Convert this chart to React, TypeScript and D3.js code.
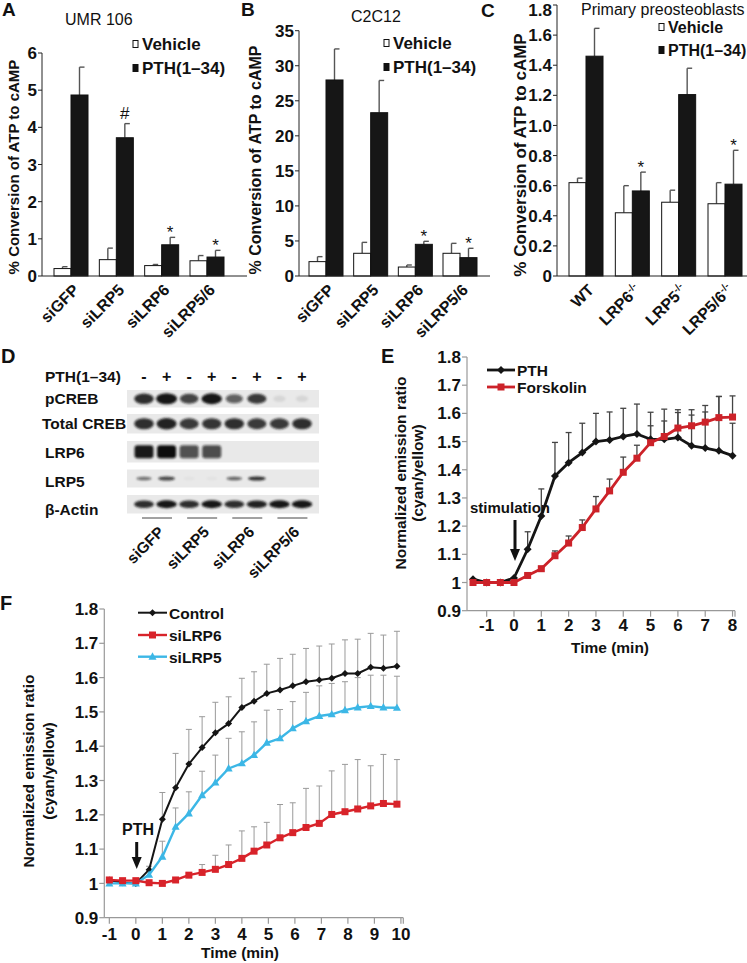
import React from "react";
import * as d3 from "d3";

const FONT = "'Liberation Sans', Arial, Helvetica, sans-serif";

// ---------- Panel A (UMR 106) ----------
const catsA = ["siGFP", "siLRP5", "siLRP6", "siLRP5/6"];
const vehA = [0.2, 0.44, 0.28, 0.41];
const vehErrA = [0.05, 0.31, 0.03, 0.14];
const pthA = [4.87, 3.72, 0.84, 0.51];
const pthErrA = [0.75, 0.38, 0.2, 0.18];
const marksA = ["", "#", "*", "*"];
const ticksA = [0, 1, 2, 3, 4, 5, 6];

// ---------- Panel B (C2C12) ----------
const catsB = ["siGFP", "siLRP5", "siLRP6", "siLRP5/6"];
const vehB = [2.05, 3.24, 1.28, 3.24];
const vehErrB = [0.71, 1.56, 0.29, 1.42];
const pthB = [27.97, 23.3, 4.52, 2.62];
const pthErrB = [4.43, 4.6, 0.43, 1.33];
const marksB = ["", "", "*", "*"];
const ticksB = [0, 5, 10, 15, 20, 25, 30, 35];

// ---------- Panel C (Primary preosteoblasts) ----------
const catsC = ["WT", "LRP6", "LRP5", "LRP5/6"];
const supC = ["", "-/-", "-/-", "-/-"];
const vehC = [0.62, 0.42, 0.49, 0.48];
const vehErrC = [0.03, 0.18, 0.08, 0.14];
const pthC = [1.46, 0.565, 1.205, 0.61];
const pthErrC = [0.185, 0.125, 0.175, 0.225];
const marksC = ["", "*", "", "*"];
const ticksC = [0, 0.2, 0.4, 0.6, 0.8, 1.0, 1.2, 1.4, 1.6, 1.8];

// ---------- Panel D (western blot) ----------
const lanesD = ["-", "+", "-", "+", "-", "+", "-", "+"];
const groupsD = ["siGFP", "siLRP5", "siLRP6", "siLRP5/6"];
const rowsD = ["pCREB", "Total CREB", "LRP6", "LRP5", "β-Actin"];
const pCREB = [0.85, 1.0, 0.75, 0.95, 0.6, 0.8, 0.08, 0.08];
const totalCREB = [0.85, 0.9, 0.8, 0.82, 0.85, 0.8, 0.8, 0.85];
const lrp6 = [0.95, 1.0, 0.7, 0.72, 0, 0, 0, 0];
const lrp5 = [0.55, 0.75, 0.04, 0.04, 0.6, 0.85, 0, 0];
const bActin = [0.85, 0.95, 0.85, 0.95, 0.85, 0.9, 0.95, 0.95];

// ---------- Panel E ----------
const timeE = [-1.5, -1, -0.5, 0, 0.5, 1, 1.5, 2, 2.5, 3, 3.5, 4, 4.5, 5, 5.5, 6, 6.5, 7, 7.5, 8];
const pthE = [1.012, 1.0, 1.0, 1.016, 1.118, 1.236, 1.378, 1.425, 1.461, 1.5, 1.506, 1.518, 1.527, 1.508, 1.508, 1.514, 1.485, 1.477, 1.467, 1.45];
const pthErrE = [0, 0, 0, 0, 0.062, 0.096, 0.119, 0.107, 0.104, 0.1, 0.099, 0.1, 0.106, 0.096, 0.107, 0.099, 0.128, 0.151, 0.193, 0.115];
const forsE = [1.0, 1.0, 1.0, 1.0, 1.025, 1.049, 1.095, 1.14, 1.195, 1.261, 1.325, 1.391, 1.441, 1.496, 1.518, 1.548, 1.556, 1.569, 1.585, 1.587];
const forsErrE = [0, 0, 0, 0, 0.005, 0.008, 0.017, 0.025, 0.027, 0.044, 0.042, 0.054, 0.046, 0.06, 0.055, 0.055, 0.038, 0.036, 0.075, 0.075];
const xTicksE = [-1, 0, 1, 2, 3, 4, 5, 6, 7, 8];
const yTicksLine = [0.9, 1.0, 1.1, 1.2, 1.3, 1.4, 1.5, 1.6, 1.7, 1.8];

// ---------- Panel F ----------
const timeF = [-1, -0.5, 0, 0.5, 1, 1.5, 2, 2.5, 3, 3.5, 4, 4.46, 4.94, 5.44, 5.92, 6.42, 6.92, 7.39, 7.89, 8.37, 8.86, 9.34, 9.85];
const ctrlF = [1.01, 1.002, 1.0, 1.04, 1.187, 1.279, 1.348, 1.396, 1.439, 1.466, 1.513, 1.531, 1.554, 1.564, 1.576, 1.588, 1.593, 1.598, 1.612, 1.612, 1.63, 1.627, 1.633];
const ctrlErrF = [0, 0, 0, 0.01, 0.078, 0.1, 0.101, 0.09, 0.089, 0.078, 0.085, 0.086, 0.085, 0.092, 0.092, 0.097, 0.099, 0.1, 0.098, 0.1, 0.099, 0.097, 0.102];
const lrp6F = [1.01, 1.008, 1.008, 1.002, 1.0, 1.01, 1.024, 1.032, 1.041, 1.055, 1.073, 1.094, 1.112, 1.133, 1.148, 1.163, 1.175, 1.201, 1.209, 1.217, 1.226, 1.233, 1.231];
const lrp6ErrF = [0, 0, 0, 0, 0, 0, 0.005, 0.023, 0.041, 0.057, 0.08, 0.071, 0.066, 0.097, 0.087, 0.114, 0.109, 0.127, 0.138, 0.144, 0.117, 0.143, 0.13];
const lrp5F = [1.0, 1.0, 1.0, 1.025, 1.078, 1.165, 1.204, 1.257, 1.294, 1.335, 1.35, 1.374, 1.41, 1.423, 1.452, 1.473, 1.488, 1.493, 1.505, 1.513, 1.517, 1.513, 1.512];
const lrp5ErrF = [0, 0, 0, 0, 0.045, 0.055, 0.063, 0.07, 0.08, 0.088, 0.092, 0.097, 0.095, 0.084, 0.078, 0.084, 0.088, 0.09, 0.083, 0.087, 0.09, 0.094, 0.092];
const xTicksF = [-1, 0, 1, 2, 3, 4, 5, 6, 7, 8, 9, 10];

const RED = "#d8232a";
const CYAN = "#3cb7e6";

type BarProps = {
  x0: number; xEnd: number; yTop: number; yMax: number; ticks: number[];
  fmt: (v: number) => string; cats: string[]; sups?: string[]; xr: [number, number];
  veh: number[]; vehErr: number[]; pth: number[]; pthErr: number[]; marks: string[];
  title: string; titleX: number; titleY: number;
  legX: number; legY1: number; legY2: number; legSize: number;
  yLabelX: number; yLabelY: number; yLabelSize: number;
};

function Marker({ kind, x, y, size, color }: { kind: string; x: number; y: number; size: number; color: string }) {
  if (kind === "square") return <rect x={x - size / 2} y={y - size / 2} width={size} height={size} fill={color} />;
  if (kind === "diamond") {
    const r = size / 2;
    return <path d={`M${x},${y - r}L${x + r},${y}L${x},${y + r}L${x - r},${y}Z`} fill={color} />;
  }
  const r = size / 2;
  return <path d={`M${x},${y - r * 1.1}L${x + r},${y + r * 0.75}L${x - r},${y + r * 0.75}Z`} fill={color} />;
}

function BarPanel(p: BarProps) {
  const base = 276;
  const y = d3.scaleLinear().domain([0, p.yMax]).range([base, p.yTop]);
  const x = d3.scalePoint<string>().domain(p.cats).range(p.xr);
  const bw = 17;
  const err = (cx: number, v: number, e: number) => (
    <g stroke="#555" strokeWidth={1.4}>
      <line x1={cx} x2={cx} y1={y(v)} y2={y(v + e)} />
      <line x1={cx} x2={cx + 5} y1={y(v + e)} y2={y(v + e)} />
    </g>
  );
  return (
    <g>
      <text x={p.titleX} y={p.titleY} fontSize={16}>{p.title}</text>
      {p.cats.map((c, i) => {
        const cx = x(c)!;
        return (
          <g key={c}>
            {err(cx - bw / 2, p.veh[i], p.vehErr[i])}
            {err(cx + bw / 2, p.pth[i], p.pthErr[i])}
            <rect x={cx - bw} y={y(p.veh[i])} width={bw} height={base - y(p.veh[i])} fill="#fff" stroke="#111" strokeWidth={1} />
            <rect x={cx} y={y(p.pth[i])} width={bw} height={base - y(p.pth[i])} fill="#161616" stroke="#111" strokeWidth={1} />
            {p.marks[i] === "*" && (
              <text x={cx + bw / 2} y={y(p.pth[i] + p.pthErr[i]) + 1} textAnchor="middle" fontSize={17}>*</text>
            )}
            {p.marks[i] === "#" && (
              <text x={cx + bw / 2} y={y(p.pth[i] + p.pthErr[i]) - 5} textAnchor="middle" fontSize={17}>#</text>
            )}
            <text transform={`translate(${cx + 9},${291}) rotate(-45)`} textAnchor="end" fontWeight="bold" fontSize={16}>
              {c}
              {p.sups && p.sups[i] ? <tspan dy={-6} fontSize={10}>{p.sups[i]}</tspan> : null}
            </text>
          </g>
        );
      })}
      <line x1={p.x0} x2={p.x0} y1={p.yTop} y2={base} stroke="#222" />
      <line x1={p.x0} x2={p.xEnd} y1={base} y2={base} stroke="#222" />
      {p.ticks.map((t) => (
        <g key={t}>
          <line x1={p.x0 - 4} x2={p.x0} y1={y(t)} y2={y(t)} stroke="#222" />
          <text x={p.x0 - 5} y={Math.max(y(t), 10)} dy="0.36em" textAnchor="end" fontWeight="bold" fontSize={17}>{p.fmt(t)}</text>
        </g>
      ))}
      <text transform={`translate(${p.yLabelX},${p.yLabelY}) rotate(-90)`} textAnchor="middle" dominantBaseline="central" fontWeight="bold" fontSize={p.yLabelSize}>
        % Conversion of ATP to cAMP
      </text>
      <rect x={p.legX} y={p.legY1 - 3.5} width={5} height={7} fill="#fff" stroke="#111" />
      <text x={p.legX + 9} y={p.legY1 + 6} fontWeight="bold" fontSize={p.legSize}>Vehicle</text>
      <rect x={p.legX} y={p.legY2 - 3.5} width={5} height={7} fill="#111" stroke="#111" />
      <text x={p.legX + 9} y={p.legY2 + 6} fontWeight="bold" fontSize={p.legSize}>PTH(1–34)</text>
    </g>
  );
}

type Series = { t: number[]; v: number[]; e: number[]; color: string; marker: string; ms: number; lw: number };

function LinePanel(props: {
  xDom: [number, number]; xRange: [number, number]; yRange: [number, number];
  xTicks: number[]; series: Series[]; errColor: string; errW: number; cap: number;
  axisColor: string; xLabOff: number;
}) {
  const x = d3.scaleLinear().domain(props.xDom).range(props.xRange);
  const y = d3.scaleLinear().domain([0.9, 1.8]).range(props.yRange);
  const [xl, xr] = props.xRange;
  const [yb, yt] = props.yRange;
  const fmt = (v: number) => (Math.abs(v - 1) < 1e-9 ? "1" : v.toFixed(1));
  return (
    <g>
      <line x1={xl} x2={xl} y1={yt} y2={yb} stroke={props.axisColor} strokeWidth={1.2} />
      <line x1={xl} x2={xr} y1={yb} y2={yb} stroke={props.axisColor} strokeWidth={1.2} />
      {yTicksLine.map((t) => (
        <g key={t}>
          <line x1={xl - 5} x2={xl} y1={y(t)} y2={y(t)} stroke={props.axisColor} strokeWidth={1.2} />
          <text x={xl - 6} y={y(t)} dy="0.36em" textAnchor="end" fontWeight="bold" fontSize={17}>{fmt(t)}</text>
        </g>
      ))}
      {props.xTicks.map((t) => (
        <g key={t}>
          <line x1={x(t)} x2={x(t)} y1={yb} y2={yb + 6} stroke={props.axisColor} strokeWidth={1.2} />
          <text x={x(t)} y={yb + props.xLabOff} textAnchor="middle" fontWeight="bold" fontSize={17}>{t}</text>
        </g>
      ))}
      <line x1={xr} x2={xr} y1={yb} y2={yb + 6} stroke={props.axisColor} strokeWidth={1.2} />
      {props.series.map((s, si) => (
        <g key={"e" + si} stroke={props.errColor} strokeWidth={props.errW}>
          {s.t.map((t, i) =>
            s.e[i] > 0.004 ? (
              <g key={i}>
                <line x1={x(t)} x2={x(t)} y1={y(s.v[i])} y2={y(s.v[i] + s.e[i])} />
                <line x1={x(t) - props.cap / 2} x2={x(t) + props.cap / 2} y1={y(s.v[i] + s.e[i])} y2={y(s.v[i] + s.e[i])} />
              </g>
            ) : null
          )}
        </g>
      ))}
      {props.series.map((s, si) => {
        const pts: [number, number][] = s.t.map((t, i) => [x(t), y(s.v[i])]);
        const path = d3.line()(pts)!;
        return (
          <g key={"s" + si}>
            <path d={path} fill="none" stroke={s.color} strokeWidth={s.lw} strokeLinejoin="round" />
            {pts.map(([px, py], i) => (
              <Marker key={i} kind={s.marker} x={px} y={py} size={s.ms} color={s.color} />
            ))}
          </g>
        );
      })}
    </g>
  );
}

function Blot() {
  const lane = d3.scalePoint<number>().domain(d3.range(lanesD.length)).range([144, 302]);
  const strips = [
    { y0: 390, y1: 407.5, data: pCREB, w: 21, h: 11, kind: "oval" },
    { y0: 414, y1: 433.5, data: totalCREB, w: 21, h: 12, kind: "oval" },
    { y0: 441, y1: 462.5, data: lrp6, w: 19, h: 13, kind: "rect" },
    { y0: 469.5, y1: 487.5, data: lrp5, w: 19, h: 4.5, kind: "oval" },
    { y0: 495, y1: 513.5, data: bActin, w: 21, h: 8, kind: "oval" },
  ];
  const labelY = [403.5, 429, 457.5, 486.5, 514.5];
  const labelX = [45, 42, 45, 45, 45];
  return (
    <g>
      <text x={1} y={363} fontWeight="bold" fontSize={20}>D</text>
      <text x={45} y={381.5} fontWeight="bold" fontSize={15.5}>PTH(1–34)</text>
      {lanesD.map((s, i) => (
        <text key={i} x={lane(i)!} y={382} textAnchor="middle" fontWeight="bold" fontSize={16}>{s}</text>
      ))}
      {rowsD.map((r, i) => (
        <text key={r} x={labelX[i]} y={labelY[i]} fontWeight="bold" fontSize={15.5}>{r}</text>
      ))}
      {strips.map((st, si) => (
        <g key={si}>
          <rect x={127} y={st.y0} width={192} height={st.y1 - st.y0} fill="#e9e9e9" />
          <g filter="url(#blur)">
            {st.data.map((v, i) => {
              const cx = lane(i)!;
              const cy = (st.y0 + st.y1) / 2;
              const sc = 0.55 + 0.45 * v;
              if (v <= 0) return null;
              return st.kind === "rect" ? (
                <rect key={i} x={cx - st.w / 2} y={cy - st.h / 2} width={st.w} height={st.h} rx={3} fill="#111" opacity={v} />
              ) : (
                <ellipse key={i} cx={cx} cy={cy} rx={(st.w / 2) * sc} ry={(st.h / 2) * sc} fill="#151515" opacity={Math.min(1, v * 1.05)} />
              );
            })}
          </g>
        </g>
      ))}
      {groupsD.map((g, i) => {
        const x1 = lane(i * 2)! - 2;
        return (
          <g key={g}>
            <line x1={x1} x2={x1 + 30} y1={518} y2={518} stroke="#444" strokeWidth={1} />
            <text transform={`translate(${x1 + 23},${533}) rotate(-45)`} textAnchor="end" fontWeight="bold" fontSize={15.5}>{g}</text>
          </g>
        );
      })}
    </g>
  );
}

export default function App() {
  const fmtInt = (v: number) => String(v);
  const fmtC = (v: number) => (v === 0 ? "0" : v.toFixed(1));
  return (
    <svg width={747} height={963} style={{ position: "absolute", left: 0, top: 0, background: "#fff" }} fontFamily={FONT} fill="#111">
      <defs>
        <filter id="blur" x="-20%" y="-50%" width="140%" height="200%">
          <feGaussianBlur stdDeviation="1.2" />
        </filter>
      </defs>
      <rect x={0} y={0} width={747} height={963} fill="#fff" />

      <text x={2} y={16} fontWeight="bold" fontSize={19}>A</text>
      <BarPanel x0={42} xEnd={247} yTop={53} yMax={6} ticks={ticksA} fmt={fmtInt} cats={catsA} xr={[71, 207]}
        veh={vehA} vehErr={vehErrA} pth={pthA} pthErr={pthErrA} marks={marksA}
        title="UMR 106" titleX={65} titleY={25} legX={133} legY1={44} legY2={68} legSize={17}
        yLabelX={13} yLabelY={167} yLabelSize={15} />

      <text x={241} y={16} fontWeight="bold" fontSize={19}>B</text>
      <BarPanel x0={299} xEnd={490} yTop={30.7} yMax={35} ticks={ticksB} fmt={fmtInt} cats={catsB} xr={[326, 460]}
        veh={vehB} vehErr={vehErrB} pth={pthB} pthErr={pthErrB} marks={marksB}
        title="C2C12" titleX={351} titleY={22} legX={384} legY1={43} legY2={67} legSize={17}
        yLabelX={255} yLabelY={160} yLabelSize={16} />

      <text x={481} y={17} fontWeight="bold" fontSize={19}>C</text>
      <BarPanel x0={557} xEnd={747} yTop={5} yMax={1.8} ticks={ticksC} fmt={fmtC} cats={catsC} sups={supC} xr={[586, 725]}
        veh={vehC} vehErr={vehErrC} pth={pthC} pthErr={pthErrC} marks={marksC}
        title="Primary preosteoblasts" titleX={581} titleY={15} legX={659} legY1={27} legY2={50} legSize={16}
        yLabelX={520} yLabelY={155} yLabelSize={17} />

      <Blot />

      {/* Panel E */}
      <text x={381} y={363} fontWeight="bold" fontSize={20}>E</text>
      <LinePanel xDom={[-1.72, 8.09]} xRange={[467, 735]} yRange={[610.7, 357]} xTicks={xTicksE}
        errColor="#444" errW={1.3} cap={6} axisColor="#999" xLabOff={20}
        series={[
          { t: timeE, v: pthE, e: pthErrE, color: "#151515", marker: "diamond", ms: 8, lw: 2.8 },
          { t: timeE, v: forsE, e: forsErrE, color: "#cc2229", marker: "square", ms: 7, lw: 2.8 },
        ]} />
      <line x1={487} x2={515} y1={370} y2={370} stroke="#151515" strokeWidth={2.8} />
      <Marker kind="diamond" x={501} y={370} size={8} color="#151515" />
      <text x={517} y={375.5} fontWeight="bold" fontSize={15.5}>PTH</text>
      <line x1={487} x2={515} y1={387} y2={387} stroke="#cc2229" strokeWidth={2.8} />
      <Marker kind="square" x={501} y={387} size={7} color="#cc2229" />
      <text x={517} y={392.5} fontWeight="bold" fontSize={15.5}>Forskolin</text>
      <text x={470} y={512.5} fontWeight="bold" fontSize={15}>stimulation</text>
      <line x1={515} x2={515} y1={520} y2={550} stroke="#111" strokeWidth={3} />
      <path d="M510,549 L520,549 L515,561 Z" fill="#111" />
      <text transform="translate(400,473) rotate(-90)" textAnchor="middle" dominantBaseline="central" fontWeight="bold" fontSize={15.5}>Normalized emission ratio</text>
      <text transform="translate(417.5,473) rotate(-90)" textAnchor="middle" dominantBaseline="central" fontWeight="bold" fontSize={15.5}>(cyan/yellow)</text>
      <text x={610} y={653} textAnchor="middle" fontWeight="bold" fontSize={15.5}>Time (min)</text>

      {/* Panel F */}
      <text x={0} y={610} fontWeight="bold" fontSize={20}>F</text>
      <LinePanel xDom={[-1.19, 10.09]} xRange={[104.3, 403.3]} yRange={[917.7, 609]} xTicks={xTicksF}
        errColor="#9a9a9a" errW={1} cap={6} axisColor="#999" xLabOff={22}
        series={[
          { t: timeF, v: ctrlF, e: ctrlErrF, color: "#151515", marker: "diamond", ms: 7, lw: 2 },
          { t: timeF, v: lrp5F, e: lrp5ErrF, color: CYAN, marker: "triangle", ms: 8, lw: 2.4 },
          { t: timeF, v: lrp6F, e: lrp6ErrF, color: RED, marker: "square", ms: 7, lw: 2.4 },
        ]} />
      <line x1={138} x2={167} y1={612.7} y2={612.7} stroke="#151515" strokeWidth={2} />
      <Marker kind="diamond" x={152.5} y={612.7} size={7} color="#151515" />
      <text x={169} y={618.5} fontWeight="bold" fontSize={15.5}>Control</text>
      <line x1={138} x2={167} y1={635} y2={635} stroke={RED} strokeWidth={2.4} />
      <Marker kind="square" x={152.5} y={635} size={7} color={RED} />
      <text x={169} y={640.7} fontWeight="bold" fontSize={15.5}>siLRP6</text>
      <line x1={138} x2={167} y1={656.7} y2={656.7} stroke={CYAN} strokeWidth={2.4} />
      <Marker kind="triangle" x={152.5} y={656.7} size={8} color={CYAN} />
      <text x={169} y={662.5} fontWeight="bold" fontSize={15.5}>siLRP5</text>
      <text x={138} y={835} textAnchor="middle" fontWeight="bold" fontSize={16}>PTH</text>
      <line x1={136.7} x2={136.7} y1={842} y2={858} stroke="#111" strokeWidth={3} />
      <path d="M131.7,857 L141.7,857 L136.7,869 Z" fill="#111" />
      <text transform="translate(28.3,771) rotate(-90)" textAnchor="middle" dominantBaseline="central" fontWeight="bold" fontSize={15.5}>Normalized emission ratio</text>
      <text transform="translate(48.3,771) rotate(-90)" textAnchor="middle" dominantBaseline="central" fontWeight="bold" fontSize={15.5}>(cyan/yellow)</text>
      <text x={240} y={958} textAnchor="middle" fontWeight="bold" fontSize={15.5}>Time (min)</text>
    </svg>
  );
}
